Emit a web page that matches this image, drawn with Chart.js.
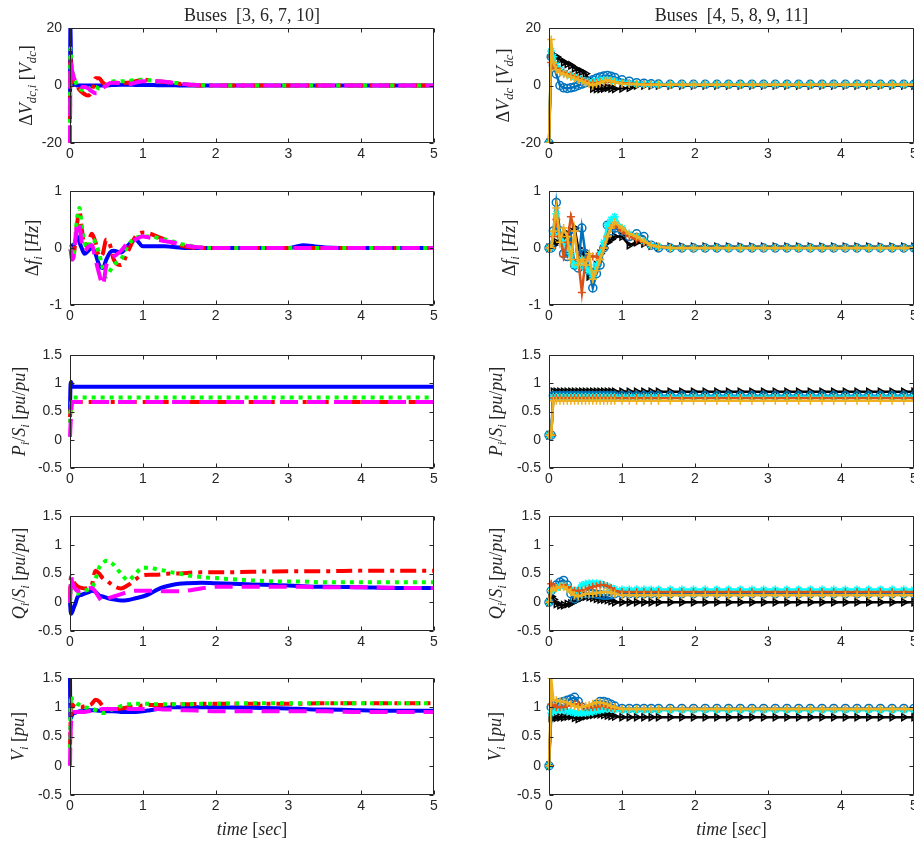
<!DOCTYPE html>
<html><head><meta charset="utf-8">
<script src="https://cdn.jsdelivr.net/npm/chart.js@4.4.1/dist/chart.umd.min.js"></script>
<style>
html,body{margin:0;padding:0;background:#fff;overflow:hidden;width:914px;height:841px;}
canvas{position:absolute;}
</style></head><body>
<script>
// ---------------- DATA ----------------
const xTicks = [0,1,2,3,4,5];
const tL = [0,0.005,0.015,0.03,0.05,0.08,0.1,0.13,0.16,0.2, 0.25,0.3,0.35,0.4,0.45,0.5,0.55,0.6,0.7,0.8,0.9,1.0, 1.1,1.2,1.3,1.4,1.5,1.6,1.8,2.0, 2.5,3.0,3.2,3.4,3.5,4.0,4.5,5.0];
const tR = [0,0.03,0.06,0.1,0.15,0.2,0.25,0.3,0.35,0.4,0.45,0.5,0.55,0.6,0.65,0.7,0.75,0.8,0.85,0.9,1.0,1.1,1.2,1.3,1.4,1.5,
            1.66,1.82,1.98,2.14,2.3,2.46,2.62,2.78,2.94,3.1,3.26,3.42,3.58,3.74,3.9,4.06,4.22,4.38,4.54,4.7,4.86,5.0];

// Left column, buses 3 (blue), 6 (red), 7 (green), 10 (magenta)
const dvB = [-10,20,8,2,0.5,0.2,0,0,0,0, 0,0,0,0,0,0,0.1,0.2,0.3,0.3,0.2,0.2, 0.2,0.1,0.1,0.1,0,0,0,0, 0,0,0,0,0,0,0,0];
const dvR = [-12,10,6,3,1,0,-0.5,-1.5,-2.3,-3, -3.5,-2,2.5,2.5,1,0.3,0.5,1,1,1,1.5,2, 1.8,1.5,1.2,1,0.6,0.3,0,0, 0,0,0,0,0,0,0,0];
const dvG = [-13,13,10,6,3,1,0,-1,-1.5,-2, -1.5,-0.5,-0.5,-1,-0.5,0,1,1.5,1.5,1.5,2,2, 1.8,1.5,1.3,1,0.8,0.5,0.1,0, 0,0,0,0,0,0,0,0];
const dvM = [-20,8,7,5,3,1,0,-0.3,-0.5,-0.5, -1,-2,-2.7,-2.5,-1,0,0.8,1,0.8,0.5,1,1.5, 1.5,1.5,1.3,1,0.7,0.4,0.1,0, 0,0,0,0,0,0,0,0];

const dfB = [0,0,0.02,0.05,0.05,0.15,0.2,0.1,0,-0.1, -0.05,0,-0.1,-0.3,-0.35,-0.2,-0.08,-0.05,-0.08,0.05,0.15,0.03, 0.03,0.03,0.03,0.02,0.01,0,0,0, 0,0,0.05,0.02,0.01,0,0,0];
const dfR = [0,0,-0.05,-0.1,-0.1,0.2,0.45,0.65,0.35,0.05, 0.1,0.25,0.1,-0.15,-0.1,0.15,0.05,-0.2,-0.3,-0.05,0.2,0.27, 0.25,0.2,0.15,0.1,0.05,0.02,0,0, 0,0,0,0,0,0,0,0];
const dfG = [0,0,-0.1,-0.2,-0.15,0.3,0.55,0.7,0.4,0.1, 0,0.15,0.1,-0.1,-0.35,-0.5,-0.4,-0.3,-0.2,0.05,0.18,0.2, 0.2,0.18,0.15,0.12,0.08,0.05,0.01,0, 0,0,0,0,0,0,0,0];
const dfM = [0,0,-0.1,-0.2,-0.15,0.2,0.45,0.4,0.1,-0.05, 0.02,0.05,-0.2,-0.45,-0.65,-0.3,-0.2,-0.15,-0.05,0.1,0.15,0.2, 0.18,0.15,0.12,0.1,0.07,0.04,0.01,0, 0,0,0,0,0,0,0,0];

const psB = [0.5,0.9,1.02,0.95,0.94,0.94,0.94,0.94,0.94,0.94, 0.94,0.94,0.94,0.94,0.94,0.94,0.94,0.94,0.94,0.94,0.94,0.94, 0.94,0.94,0.94,0.94,0.94,0.94,0.94,0.94, 0.94,0.94,0.94,0.94,0.94,0.94,0.94,0.94];
const psR = [0.4,0.5,0.6,0.67,0.67,0.67,0.67,0.67,0.67,0.67, 0.67,0.67,0.67,0.67,0.67,0.67,0.67,0.67,0.67,0.67,0.67,0.67, 0.67,0.67,0.67,0.67,0.67,0.67,0.67,0.67, 0.67,0.67,0.67,0.67,0.67,0.67,0.67,0.67];
const psG = [0.3,0.45,0.6,0.75,0.75,0.75,0.75,0.75,0.75,0.75, 0.75,0.75,0.75,0.75,0.75,0.75,0.75,0.75,0.75,0.75,0.75,0.75, 0.75,0.75,0.75,0.75,0.75,0.75,0.75,0.75, 0.75,0.75,0.75,0.75,0.75,0.75,0.75,0.75];
const psM = [0.05,0.2,0.45,0.67,0.67,0.67,0.67,0.67,0.67,0.67, 0.67,0.67,0.67,0.67,0.67,0.67,0.67,0.67,0.67,0.67,0.67,0.67, 0.67,0.67,0.67,0.67,0.67,0.67,0.67,0.67, 0.67,0.67,0.67,0.67,0.67,0.67,0.67,0.67];

const qsB = [0,-0.1,-0.2,-0.17,-0.1,0,0.08,0.12,0.13,0.15, 0.17,0.2,0.18,0.12,0.1,0.08,0.06,0.05,0.03,0.04,0.07,0.1, 0.15,0.22,0.27,0.3,0.32,0.33,0.34,0.33, 0.31,0.29,0.28,0.27,0.27,0.26,0.25,0.25];
const qsR = [0,0.3,0.45,0.4,0.35,0.3,0.28,0.26,0.25,0.24, 0.25,0.3,0.55,0.5,0.42,0.38,0.33,0.28,0.24,0.3,0.4,0.47, 0.48,0.48,0.49,0.5,0.5,0.51,0.52,0.52, 0.53,0.54,0.54,0.54,0.54,0.55,0.55,0.55];
const qsG = [0,0.1,0.2,0.2,0.18,0.15,0.15,0.17,0.18,0.2, 0.22,0.25,0.4,0.6,0.68,0.72,0.7,0.65,0.5,0.38,0.5,0.6, 0.6,0.57,0.55,0.52,0.5,0.47,0.44,0.42, 0.38,0.36,0.36,0.35,0.35,0.35,0.35,0.35];
const qsM = [0,0.2,0.45,0.35,0.28,0.22,0.2,0.2,0.21,0.22, 0.24,0.25,0.18,0.08,0.01,0.04,0.08,0.1,0.14,0.18,0.2,0.2, 0.2,0.2,0.19,0.19,0.19,0.2,0.24,0.27, 0.27,0.27,0.27,0.26,0.26,0.26,0.25,0.25];

const vB = [1.5,0.8,0.82,0.87,0.9,0.91,0.92,0.93,0.93,0.94, 0.95,0.95,0.95,0.94,0.94,0.93,0.93,0.93,0.92,0.92,0.92,0.93, 0.95,0.97,0.99,1.0,1.0,1.0,1.0,1.0, 0.99,0.98,0.97,0.96,0.96,0.95,0.94,0.94];
const vR = [0.3,0.6,1.0,1.05,1.02,1.0,1.0,1.0,1.0,1.02, 1.03,1.06,1.13,1.1,1.02,0.98,0.97,0.97,0.98,1.0,1.02,1.03, 1.04,1.04,1.04,1.05,1.05,1.05,1.06,1.06, 1.06,1.06,1.06,1.07,1.07,1.07,1.07,1.07];
const vG = [0.3,0.8,1.2,1.12,1.1,1.08,1.06,1.04,1.02,1.0, 0.99,0.98,0.95,0.92,0.9,0.92,0.95,0.97,1.02,1.05,1.06,1.06, 1.06,1.05,1.05,1.05,1.05,1.05,1.06,1.06, 1.07,1.07,1.07,1.07,1.07,1.07,1.07,1.07];
const vM = [0,0.4,0.75,0.9,0.92,0.92,0.92,0.92,0.92,0.92, 0.93,0.94,0.95,0.96,0.97,0.97,0.97,0.97,0.97,0.97,0.97,0.97, 0.97,0.97,0.96,0.96,0.95,0.95,0.94,0.93, 0.93,0.93,0.93,0.93,0.93,0.92,0.92,0.92];

// Right column, buses 4 (black), 5 (blue), 8 (red), 9 (cyan), 11 (yellow)
const rdvK = [-20,11,10.5,10,9,8,7.5,7,6,5.3,4.8,4.1,1.8,-1,-1.2,-1.2,-1,-0.8,-1,-1.2,-1,-0.8,0,0,0,0, 0,0,0,0,0,0,0,0,0,0,0, 0,0,0,0,0,0,0,0,0,0,0];
const rdvB = [-20,10,7,4,0,-0.8,-1,-0.8,-0.5,0,0.5,1,1.5,2,2.5,3,3.3,3.5,3.2,2.8,2,1.5,1,0.8,0.6,0.5, 0.4,0.4,0.4,0.4,0.4,0.4,0.4,0.4,0.4,0.4,0.4, 0.4,0.4,0.4,0.4,0.4,0.4,0.4,0.4,0.4,0.4,0.4];
const rdvR = [-20,8,7,6,5,4.5,4,3.5,3,2.5,2,1.5,1,0.8,1,1.2,1.4,1.5,1.4,1.2,0.9,0.7,0.5,0.4,0.4,0.3, 0.3,0.3,0.3,0.3,0.3,0.3,0.3,0.3,0.3,0.3,0.3, 0.3,0.3,0.3,0.3,0.3,0.3,0.3,0.3,0.3,0.3,0.3];
const rdvC = [-20,12,10,7,5.5,4.5,4,3.5,3,2.5,2,1.5,1.2,1.2,1.5,1.8,2,2,1.8,1.5,1.1,0.8,0.6,0.5,0.5,0.4, 0.4,0.4,0.4,0.4,0.4,0.4,0.4,0.4,0.4,0.4,0.4, 0.4,0.4,0.4,0.4,0.4,0.4,0.4,0.4,0.4,0.4,0.4];
const rdvY = [-20,16,8,5.5,4.5,4,3.5,3,2.5,2,1.5,1,0.5,0,0.5,1,1.5,1.8,1.6,1.2,0.6,0.5,0.4,0.3,0.3,0.3, 0.3,0.3,0.3,0.3,0.3,0.3,0.3,0.3,0.3,0.3,0.3, 0.3,0.3,0.3,0.3,0.3,0.3,0.3,0.3,0.3,0.3,0.3];

const rdfK = [0,0,0.05,0.1,0.15,0.2,0.25,0.3,0.35,0,-0.1,-0.1,-0.5,-0.45,-0.3,-0.1,0,0.1,0.15,0.2,0.2,0.05,0.1,0.08,0.04,0.02, 0.02,0.02,0.02,0.02,0.02,0.02,0.02,0.02,0.02,0.02,0.02, 0.02,0.02,0.02,0.02,0.02,0.02,0.02,0.02,0.02,0.02,0.02];
const rdfB = [0,0,0.3,0.8,0.3,-0.1,-0.15,0.2,-0.3,-0.35,0.35,-0.1,-0.4,-0.7,-0.45,-0.3,0,0.4,0.3,0.35,0.3,0.2,0.25,0.2,0.05,0, 0,0,0,0,0,0,0,0,0,0,0, 0,0,0,0,0,0,0,0,0,0,0];
const rdfR = [0,0,0.2,0.5,0.2,-0.15,0.1,0.55,0.3,-0.2,-0.78,-0.2,-0.15,-0.15,-0.15,-0.2,0,0.2,0.35,0.4,0.3,0.2,0.15,0.1,0.05,0.02, 0,0,0,0,0,0,0,0,0,0,0, 0,0,0,0,0,0,0,0,0,0,0];
const rdfC = [0,0,0.25,0.6,0.2,0.1,0,-0.1,-0.3,-0.3,-0.2,-0.35,-0.4,-0.5,-0.3,-0.1,0.1,0.4,0.5,0.55,0.35,0.25,0.2,0.12,0.05,0.02, 0,0,0,0,0,0,0,0,0,0,0, 0,0,0,0,0,0,0,0,0,0,0];
const rdfY = [0,0,0.3,0.7,0.1,0.35,0.2,-0.2,0.3,-0.3,-0.2,-0.3,-0.1,-0.55,-0.4,-0.2,0,0.2,0.35,0.45,0.35,0.25,0.2,0.12,0.05,0.02, 0,0,0,0,0,0,0,0,0,0,0, 0,0,0,0,0,0,0,0,0,0,0];

const rpsK = [0.08,0.08,0.85,0.85,0.85,0.85,0.85,0.85,0.85,0.85,0.85,0.85,0.85,0.85,0.85,0.85,0.85,0.85,0.85,0.85,0.85,0.85,0.85,0.85,0.85,0.85, 0.85,0.85,0.85,0.85,0.85,0.85,0.85,0.85,0.85,0.85,0.85, 0.85,0.85,0.85,0.85,0.85,0.85,0.85,0.85,0.85,0.85,0.85];
const rpsB = [0.08,0.08,0.78,0.78,0.78,0.78,0.78,0.78,0.78,0.78,0.78,0.78,0.78,0.78,0.78,0.78,0.78,0.78,0.78,0.78,0.78,0.78,0.78,0.78,0.78,0.78, 0.78,0.78,0.78,0.78,0.78,0.78,0.78,0.78,0.78,0.78,0.78, 0.78,0.78,0.78,0.78,0.78,0.78,0.78,0.78,0.78,0.78,0.78];
const rpsR = [0.08,0.08,0.74,0.74,0.74,0.74,0.74,0.74,0.74,0.74,0.74,0.74,0.74,0.74,0.74,0.74,0.74,0.74,0.74,0.74,0.74,0.74,0.74,0.74,0.74,0.74, 0.74,0.74,0.74,0.74,0.74,0.74,0.74,0.74,0.74,0.74,0.74, 0.74,0.74,0.74,0.74,0.74,0.74,0.74,0.74,0.74,0.74,0.74];
const rpsC = [0.08,0.08,0.76,0.76,0.76,0.76,0.76,0.76,0.76,0.76,0.76,0.76,0.76,0.76,0.76,0.76,0.76,0.76,0.76,0.76,0.76,0.76,0.76,0.76,0.76,0.76, 0.76,0.76,0.76,0.76,0.76,0.76,0.76,0.76,0.76,0.76,0.76, 0.76,0.76,0.76,0.76,0.76,0.76,0.76,0.76,0.76,0.76,0.76];
const rpsY = [0.08,0.08,0.69,0.69,0.69,0.69,0.69,0.69,0.69,0.69,0.69,0.69,0.69,0.69,0.69,0.69,0.69,0.69,0.69,0.69,0.69,0.69,0.69,0.69,0.69,0.69, 0.69,0.69,0.69,0.69,0.69,0.69,0.69,0.69,0.69,0.69,0.69, 0.69,0.69,0.69,0.69,0.69,0.69,0.69,0.69,0.69,0.69,0.69];

const rqsK = [0,0.1,0.05,-0.03,-0.05,-0.05,-0.03,-0.02,0.02,0.05,0.08,0.1,0.09,0.08,0.06,0.05,0.05,0.04,0.02,0,0,0,0,0,0,0, 0,0,0,0,0,0,0,0,0,0,0, 0,0,0,0,0,0,0,0,0,0,0];
const rqsB = [0,0.2,0.25,0.3,0.35,0.38,0.3,0.15,0.06,0.1,0.15,0.15,0.15,0.15,0.14,0.13,0.12,0.12,0.13,0.15,0.15,0.15,0.15,0.15,0.15,0.15, 0.15,0.15,0.15,0.15,0.15,0.15,0.15,0.15,0.15,0.15,0.15, 0.15,0.15,0.15,0.15,0.15,0.15,0.15,0.15,0.15,0.15,0.15];
const rqsR = [0,0.32,0.28,0.25,0.27,0.3,0.27,0.22,0.2,0.2,0.2,0.22,0.25,0.27,0.28,0.3,0.3,0.28,0.25,0.2,0.18,0.18,0.18,0.18,0.18,0.18, 0.18,0.18,0.18,0.18,0.18,0.18,0.18,0.18,0.18,0.18,0.18, 0.18,0.18,0.18,0.18,0.18,0.18,0.18,0.18,0.18,0.18,0.18];
const rqsC = [0,0.2,0.22,0.25,0.28,0.3,0.27,0.22,0.2,0.22,0.3,0.32,0.33,0.33,0.33,0.32,0.3,0.28,0.25,0.23,0.22,0.22,0.22,0.22,0.22,0.22, 0.22,0.22,0.22,0.22,0.22,0.22,0.22,0.22,0.22,0.22,0.22, 0.22,0.22,0.22,0.22,0.22,0.22,0.22,0.22,0.22,0.22,0.22];
const rqsY = [0,0.2,0.22,0.25,0.27,0.27,0.22,0.18,0.12,0.1,0.12,0.15,0.15,0.15,0.16,0.17,0.18,0.18,0.17,0.15,0.12,0.12,0.12,0.12,0.12,0.12, 0.12,0.12,0.12,0.12,0.12,0.12,0.12,0.12,0.12,0.12,0.12, 0.12,0.12,0.12,0.12,0.12,0.12,0.12,0.12,0.12,0.12,0.12];

const rvK = [0,0.82,0.82,0.82,0.83,0.83,0.84,0.85,0.82,0.8,0.83,0.85,0.86,0.87,0.88,0.88,0.87,0.86,0.85,0.84,0.83,0.83,0.83,0.83,0.83,0.83, 0.83,0.83,0.83,0.83,0.83,0.83,0.83,0.83,0.83,0.83,0.83, 0.83,0.83,0.83,0.83,0.83,0.83,0.83,0.83,0.83,0.83,0.83];
const rvB = [0,1.0,1.02,1.05,1.08,1.1,1.12,1.14,1.17,1.1,1.0,0.95,0.97,1.0,1.05,1.1,1.1,1.08,1.05,1.02,0.98,0.98,0.98,0.98,0.98,0.98, 0.98,0.98,0.98,0.98,0.98,0.98,0.98,0.98,0.98,0.98,0.98, 0.98,0.98,0.98,0.98,0.98,0.98,0.98,0.98,0.98,0.98,0.98];
const rvR = [0,1.05,1.03,1.0,1.0,1.0,1.02,1.05,1.05,1.05,1.02,1.0,1.0,1.0,1.01,1.02,1.02,1.0,0.99,0.98,0.97,0.97,0.97,0.97,0.97,0.97, 0.97,0.97,0.97,0.97,0.97,0.97,0.97,0.97,0.97,0.97,0.97, 0.97,0.97,0.97,0.97,0.97,0.97,0.97,0.97,0.97,0.97,0.97];
const rvC = [0,0.9,0.92,0.95,0.95,0.95,0.93,0.92,0.9,0.9,0.9,0.9,0.91,0.92,0.94,0.95,0.96,0.97,0.97,0.96,0.95,0.95,0.95,0.95,0.95,0.95, 0.95,0.95,0.95,0.95,0.95,0.95,0.95,0.95,0.95,0.95,0.95, 0.95,0.95,0.95,0.95,0.95,0.95,0.95,0.95,0.95,0.95,0.95];
const rvY = [0,1.5,1.12,1.12,1.1,1.1,1.08,1.05,1.02,1.0,1.0,1.02,1.04,1.06,1.08,1.08,1.07,1.05,1.02,1.0,0.97,0.97,0.97,0.97,0.97,0.97, 0.97,0.97,0.97,0.97,0.97,0.97,0.97,0.97,0.97,0.97,0.97, 0.97,0.97,0.97,0.97,0.97,0.97,0.97,0.97,0.97,0.97,0.97];

// ---------------- LAYOUT / STYLE ----------------
const plotTop = [28,191,355,516,678];
const plotBot = [143,305,468,631,795];
const yRange = [[-20,20,20],[-1,1,1],[-0.5,1.5,0.5],[-0.5,1.5,0.5],[-0.5,1.5,0.5]];
const yLabOff = [38,32,45,45,46];
const colCanvasLeft = [0,460], colCanvasW = [460,480], colAxisW = [70,89];
const TXT = '#262626';
const SERIF = '"Liberation Serif","DejaVu Serif",serif';
const SANS = '"Liberation Sans", Arial, sans-serif';
const LABEL_SIZE = 18;

const yLabels = [
  [[['Δ','r'],['V','i'],['dc,i','s'],[' [','r'],['V','i'],['dc','s'],[']','r']],
   [['Δ','r'],['V','i'],['dc','s'],[' [','r'],['V','i'],['dc','s'],[']','r']]],
  [[['Δ','r'],['f','i'],['i','s'],[' [','r'],['Hz','i'],[']','r']],
   [['Δ','r'],['f','i'],['i','s'],[' [','r'],['Hz','i'],[']','r']]],
  [[['P','i'],['i','s'],['/','r'],['S','i'],['i','s'],[' [','r'],['pu','i'],['/','r'],['pu','i'],[']','r']],
   [['P','i'],['i','s'],['/','r'],['S','i'],['i','s'],[' [','r'],['pu','i'],['/','r'],['pu','i'],[']','r']]],
  [[['Q','i'],['i','s'],['/','r'],['S','i'],['i','s'],[' [','r'],['pu','i'],['/','r'],['pu','i'],[']','r']],
   [['Q','i'],['i','s'],['/','r'],['S','i'],['i','s'],[' [','r'],['pu','i'],['/','r'],['pu','i'],[']','r']]],
  [[['V','i'],['i','s'],[' [','r'],['pu','i'],[']','r']],
   [['V','i'],['i','s'],[' [','r'],['pu','i'],[']','r']]]
];
const titles = [[['Buses  [3, 6, 7, 10]','r']], [['Buses  [4, 5, 8, 9, 11]','r']]];
const xLabel = [['time','i'],[' [','r'],['sec','i'],[']','r']];

function drawRich(ctx, segs, x, y, size, rotate) {
  ctx.save();
  ctx.translate(x, y);
  if (rotate) ctx.rotate(-Math.PI/2);
  let total = 0;
  const items = segs.map(([t, s]) => {
    const sz = s === 's' ? size*0.7 : size;
    const font = (s === 'r' ? '' : 'italic ') + sz + 'px ' + SERIF;
    ctx.font = font;
    const w = ctx.measureText(t).width;
    total += w;
    return {t, font, w, dy: s === 's' ? size*0.22 : 0};
  });
  let cx = -total/2;
  ctx.textBaseline = 'alphabetic';
  ctx.textAlign = 'left';
  ctx.fillStyle = TXT;
  for (const it of items) { ctx.font = it.font; ctx.fillText(it.t, cx, it.dy); cx += it.w; }
  ctx.restore();
}

const mbox = {
  id: 'mbox',
  afterDraw(chart, args, o) {
    const {ctx, chartArea: a, scales: {x, y}} = chart;
    ctx.save();
    ctx.strokeStyle = TXT; ctx.lineWidth = 1;
    const L = Math.round(a.left)+0.5, R = Math.round(a.right)-0.5, T = Math.round(a.top)+0.5, B = Math.round(a.bottom)-0.5;
    ctx.beginPath();
    ctx.rect(L, T, R-L, B-T);
    const tk = 4;
    x.ticks.forEach(t => { const px = Math.round(x.getPixelForValue(t.value))+0.5; ctx.moveTo(px,B); ctx.lineTo(px,B-tk); ctx.moveTo(px,T); ctx.lineTo(px,T+tk); });
    y.ticks.forEach(t => { const py = Math.round(y.getPixelForValue(t.value))+0.5; ctx.moveTo(L,py); ctx.lineTo(L+tk,py); ctx.moveTo(R,py); ctx.lineTo(R-tk,py); });
    ctx.stroke();
    ctx.restore();
    drawRich(ctx, o.ylabel, a.left - o.yoff, (a.top+a.bottom)/2, LABEL_SIZE, true);
    if (o.title) drawRich(ctx, o.title, (a.left+a.right)/2, a.top - 7, LABEL_SIZE, false);
    if (o.xlabel) drawRich(ctx, o.xlabel, (a.left+a.right)/2, a.bottom + 40, LABEL_SIZE, false);
  }
};

function pts(t, v) {
  if (t.length !== v.length) console.error('length mismatch', t.length, v.length);
  return t.map((tt, i) => ({x: tt, y: v[i]}));
}
function leftDS(v, color, dash, order) {
  return {data: pts(tL, v), borderColor: color, borderWidth: 4, borderDash: dash, borderCapStyle: 'butt',
          pointRadius: 0, cubicInterpolationMode: 'monotone', order, fill: false,
          clip: {left: 2, top: 0, right: 0, bottom: 0}};
}
function rightDS(v, color, style, rot, order) {
  return {data: pts(tR, v), borderColor: color, borderWidth: 2.5, tension: 0, fill: false,
          pointRadius: 4, pointStyle: style, pointRotation: rot, pointBorderColor: color,
          pointBackgroundColor: 'rgba(0,0,0,0)', pointBorderWidth: 1.5, order,
          clip: {left: 6, top: 0, right: 0, bottom: 0}};
}
const DASH_SOLID = [], DASH_DOT = [16,6,4,6], DOTTED = [4,5], DASHED = [18,9];

const leftSets = [
  [dvB, dvR, dvG, dvM], [dfB, dfR, dfG, dfM], [psB, psR, psG, psM], [qsB, qsR, qsG, qsM], [vB, vR, vG, vM]
];
const rightSets = [
  [rdvK, rdvB, rdvR, rdvC, rdvY], [rdfK, rdfB, rdfR, rdfC, rdfY], [rpsK, rpsB, rpsR, rpsC, rpsY],
  [rqsK, rqsB, rqsR, rqsC, rqsY], [rvK, rvB, rvR, rvC, rvY]
];

function makeChart(row, col) {
  const h = (plotBot[row] - plotTop[row]) + 80;
  const c = document.createElement('canvas');
  const w = colCanvasW[col];
  c.width = w; c.height = h;
  c.style.left = colCanvasLeft[col] + 'px'; c.style.top = (plotTop[row] - 30) + 'px';
  c.style.width = w + 'px'; c.style.height = h + 'px';
  document.body.appendChild(c);
  let datasets;
  if (col === 0) {
    const s = leftSets[row];
    datasets = [leftDS(s[0], '#0000FF', DASH_SOLID, 3), leftDS(s[1], '#FF0000', DASH_DOT, 2),
                leftDS(s[2], '#00FF00', DOTTED, 1), leftDS(s[3], '#FF00FF', DASHED, 0)];
  } else {
    const s = rightSets[row];
    datasets = [rightDS(s[0], '#000000', 'triangle', 90, 4), rightDS(s[1], '#0072BD', 'circle', 0, 3),
                rightDS(s[2], '#D95319', 'cross', 0, 1), rightDS(s[3], '#00FFFF', 'star', 0, 2),
                rightDS(s[4], '#EDB120', 'cross', 0, 0)];
  }
  const [ymin, ymax, ystep] = yRange[row];
  new Chart(c, {
    type: 'line',
    data: {datasets},
    options: {
      responsive: false, animation: false, devicePixelRatio: 1, events: [],
      layout: {padding: {top: 30, bottom: 20, left: 0, right: 26}},
      plugins: {legend: {display: false}, tooltip: {enabled: false},
        mbox: {ylabel: yLabels[row][col], yoff: yLabOff[row] + (col === 1 ? 2 : 0),
               title: row === 0 ? titles[col] : null, xlabel: row === 4 ? xLabel : null}},
      scales: {
        x: {type: 'linear', min: 0, max: 5,
            afterBuildTicks: s => { s.ticks = xTicks.map(v => ({value: v})); },
            ticks: {color: TXT, font: {size: 14, family: SANS}, padding: 3, maxRotation: 0, autoSkip: false,
                    callback: v => String(v)},
            grid: {display: false, drawTicks: false}, border: {display: false},
            afterFit: s => { s.height = 30; }},
        y: {type: 'linear', min: ymin, max: ymax,
            ticks: {stepSize: ystep, color: TXT, font: {size: 14, family: SANS}, padding: 8,
                    callback: v => String(Math.round(v*100)/100)},
            grid: {display: false, drawTicks: false}, border: {display: false},
            afterFit: s => { s.width = colAxisW[col]; }}
      }
    },
    plugins: [mbox]
  });
}
for (let r = 0; r < 5; r++) for (let c = 0; c < 2; c++) makeChart(r, c);
</script>
</body></html>
